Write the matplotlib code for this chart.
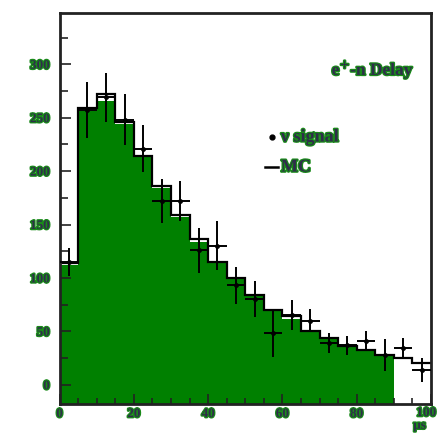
import numpy as np
import matplotlib
matplotlib.use("Agg")
import matplotlib.pyplot as plt
import matplotlib.patheffects as pe

# time bins (microseconds), 5 us wide
edges = np.arange(0, 105, 5)

# neutron-signal data and its errors
data = [115, 257, 269, 248, 221, 172, 172, 126, 130, 93,
        80, 48, 65, 60, 39, 37, 41, 28, 34, 14]
data_err = [13, 26, 23, 24, 22, 21, 19, 21, 23, 17,
            17, 22, 14, 11, 9, 9, 9, 15, 10, 11]

# MC expectation (black step line)
mc = [114, 259, 272, 246, 214, 186, 159, 136, 115, 100,
      84, 70, 64, 50, 44, 36, 33, 28, 25, 20]

# filled MC histogram, only up to 90 us
mc_fill = [112, 256, 266, 244, 213, 184, 157, 134, 114, 99,
           83, 69, 62, 50, 43, 35, 32, 27]

xticks = [0, 20, 40, 60, 80, 100]
xlabels = ['0', '20', '40', '60', '80', '100']
yticks = [0, 50, 100, 150, 200, 250, 300]

plt.rcParams['font.family'] = ['Liberation Serif', 'DejaVu Serif']
halo = [pe.withStroke(linewidth=1.8, foreground='#1a8a1a')]
txt_col = '#2e2e4a'

fig = plt.figure(figsize=(4.38, 4.33), dpi=100)
ax = fig.add_axes([0.136, 0.067, 0.848, 0.903])

ymin = -18
ax.stairs(mc_fill, edges[:len(mc_fill) + 1], fill=True, baseline=ymin,
          color='#008000', zorder=1)
ax.stairs(mc, edges, baseline=None, color='black', lw=1.6, zorder=2)

centers = (edges[:-1] + edges[1:]) / 2
ax.errorbar(centers, data, yerr=data_err, xerr=2.5, fmt='o', ms=2.5,
            color='black', ecolor='black', elinewidth=1.4, capsize=0,
            zorder=3)

ax.set_xlim(0, 100)
ax.set_ylim(ymin, 348)

ax.set_xticks(xticks)
# last label sits against the figure edge, so it is drawn separately
ax.set_xticklabels(xlabels[:-1] + [''])
ax.set_xticks(np.arange(0, 101, 5), minor=True)
ax.set_yticks(yticks)
ax.set_yticks(np.arange(0, 326, 25), minor=True)
ax.tick_params(axis='both', which='both', direction='in', top=False,
               right=False, colors='#222222', width=1.2)
ax.tick_params(axis='y', which='major', length=8, pad=7)
ax.tick_params(axis='y', which='minor', length=6)
ax.tick_params(axis='x', which='major', length=7, pad=3)
ax.tick_params(axis='x', which='minor', length=4)

for lab in ax.get_xticklabels() + ax.get_yticklabels():
    lab.set_fontsize(9.5)
    lab.set_fontweight('bold')
    lab.set_color(txt_col)
    lab.set_path_effects(halo)

fig.text(0.996, 0.046, xlabels[-1], fontsize=9.5, fontweight='bold',
         ha='right', va='center', color=txt_col, path_effects=halo)

for sp in ax.spines.values():
    sp.set_linewidth(2)
    sp.set_color('#222222')

fig.text(0.958, 0.003, 'μs', fontsize=9.5, fontweight='bold', ha='center',
         va='bottom', color=txt_col, path_effects=halo)

ax.text(0.955, 0.855, 'e$^{+}$-n Delay', transform=ax.transAxes,
        fontsize=12.5, fontweight='bold', ha='right', va='center',
        color=txt_col, path_effects=halo)

# legend entries placed by hand
ax.plot([0.572], [0.683], 'o', ms=3.5, color='black', transform=ax.transAxes)
ax.text(0.596, 0.683, 'ν signal', transform=ax.transAxes, fontsize=13,
        fontweight='bold', ha='left', va='center', color=txt_col,
        path_effects=halo)
ax.plot([0.553, 0.588], [0.606, 0.606], color='black', lw=1.8,
        transform=ax.transAxes)
ax.text(0.596, 0.606, 'MC', transform=ax.transAxes, fontsize=13,
        fontweight='bold', ha='left', va='center', color=txt_col,
        path_effects=halo)

fig.savefig('out.png', dpi=100)
